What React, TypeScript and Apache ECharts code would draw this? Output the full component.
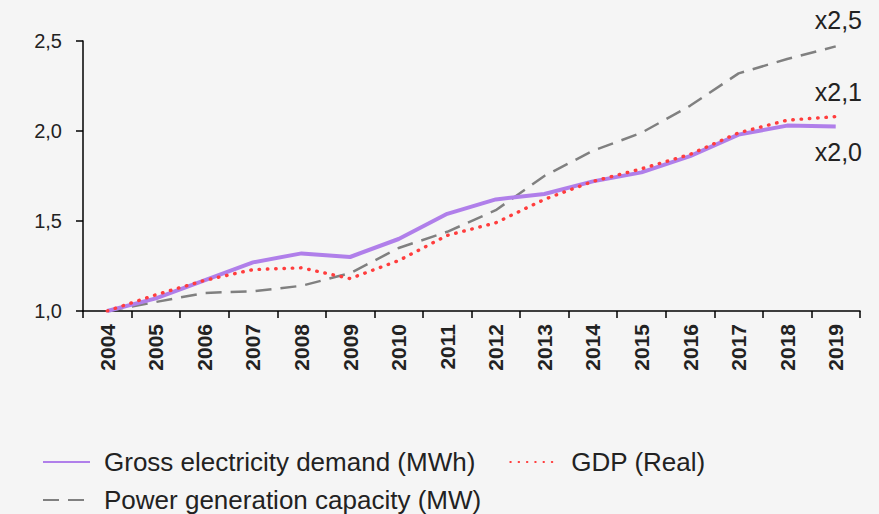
import React, { useEffect, useRef } from "react";
import * as echarts from "echarts";

const years = ["2004", "2005", "2006", "2007", "2008", "2009", "2010", "2011", "2012", "2013", "2014", "2015", "2016", "2017", "2018", "2019"];
const demand = [1.0, 1.07, 1.17, 1.27, 1.32, 1.3, 1.4, 1.54, 1.62, 1.65, 1.72, 1.77, 1.86, 1.98, 2.03, 2.025];
const gdp = [1.0, 1.09, 1.17, 1.23, 1.24, 1.18, 1.28, 1.42, 1.49, 1.62, 1.72, 1.79, 1.87, 1.99, 2.06, 2.08];
const capacity = [1.0, 1.05, 1.1, 1.11, 1.14, 1.21, 1.35, 1.44, 1.56, 1.75, 1.89, 1.99, 2.14, 2.32, 2.4, 2.47];
const seriesNames = ["Gross electricity demand (MWh)", "GDP (Real)", "Power generation capacity (MW)"];
const annotations = ["x2,5", "x2,1", "x2,0"];

export default function App() {
  const ref = useRef<HTMLDivElement>(null);
  useEffect(() => {
    document.body.style.margin = "0";
    const chart = echarts.init(ref.current!, null, { renderer: "svg" });
    const font = "Arial, 'Liberation Sans', sans-serif";
    chart.setOption({
      animation: false,
      backgroundColor: "#f5f5f5",
      textStyle: { fontFamily: font },
      grid: { left: 83, right: 19, top: 41, bottom: 203, containLabel: false },
      legend: {
        data: seriesNames,
        left: 42,
        top: 447,
        width: 720,
        padding: 0,
        itemWidth: 47,
        itemHeight: 14,
        itemGap: 8,
        itemStyle: { opacity: 0 },
        textStyle: {
          fontFamily: font,
          fontSize: 26,
          color: "#222",
          lineHeight: 30,
          padding: [0, 26, 0, 9],
        },
      },
      xAxis: {
        type: "category",
        data: years,
        boundaryGap: true,
        axisLine: { lineStyle: { color: "#000", width: 1.5 } },
        axisTick: { show: true, length: 7, lineStyle: { color: "#000", width: 1.5 } },
        axisLabel: {
          interval: 0,
          rotate: 90,
          margin: 13,
          fontSize: 21,
          fontWeight: "bold",
          color: "#222",
          fontFamily: font,
        },
      },
      yAxis: {
        type: "value",
        min: 1,
        max: 2.5,
        interval: 0.5,
        splitLine: { show: false },
        axisLine: { show: true, lineStyle: { color: "#000", width: 1.5 } },
        axisTick: { show: true, length: 7, lineStyle: { color: "#000", width: 1.5 } },
        axisLabel: {
          margin: 21,
          fontSize: 20,
          color: "#222",
          fontFamily: font,
          formatter: (v: number) => v.toFixed(1).replace(".", ","),
        },
      },
      graphic: [
        { type: "text", right: 17, top: 7, style: { text: annotations[0], fontSize: 25, fill: "#222", fontFamily: font } },
        { type: "text", right: 17, top: 79, style: { text: annotations[1], fontSize: 25, fill: "#222", fontFamily: font } },
        { type: "text", right: 17, top: 139, style: { text: annotations[2], fontSize: 25, fill: "#222", fontFamily: font } },
      ],
      series: [
        {
          name: seriesNames[2],
          type: "line",
          data: capacity,
          symbol: "none",
          lineStyle: { color: "#808080", width: 2.5, type: [16, 9] },
          itemStyle: { color: "#808080" },
          z: 2,
        },
        {
          name: seriesNames[0],
          type: "line",
          data: demand,
          symbol: "none",
          lineStyle: { color: "#b07fea", width: 4 },
          itemStyle: { color: "#b07fea" },
          z: 3,
        },
        {
          name: seriesNames[1],
          type: "line",
          data: gdp,
          symbol: "none",
          lineStyle: { color: "#ff3d3d", width: 3.4, type: [0.5, 7.8], cap: "round" },
          itemStyle: { color: "#ff3d3d" },
          z: 4,
        },
      ],
    });
    return () => chart.dispose();
  }, []);
  return <div ref={ref} style={{ width: 879, height: 514 }} />;
}
